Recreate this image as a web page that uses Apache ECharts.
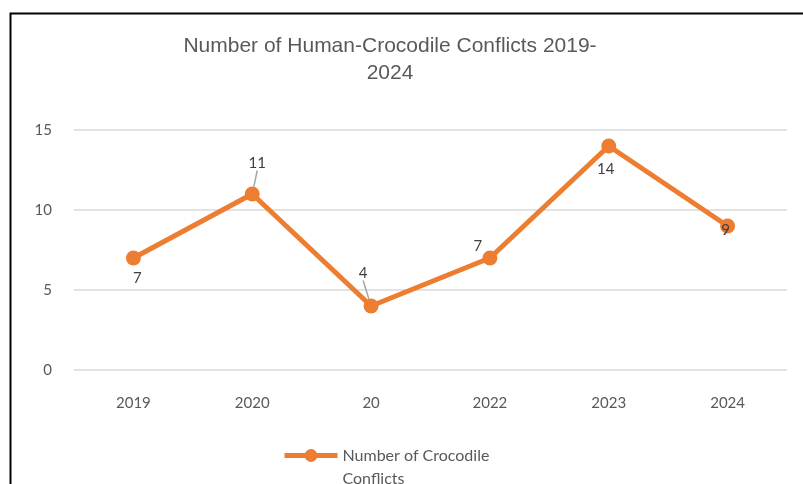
<!DOCTYPE html>
<html>
<head>
<meta charset="utf-8">
<script src="https://cdn.jsdelivr.net/npm/echarts@6/dist/echarts.min.js"></script>
<style>
html,body{margin:0;padding:0;background:#fff;}
#c{width:803px;height:484px;}
</style>
</head>
<body>
<div id="c"></div>
<script>
const categories = ['2019', '2020', '20', '2022', '2023', '2024'];
const conflicts = [7, 11, 4, 7, 14, 9];
const yTicks = [0, 5, 10, 15];
const titleText = 'Number of Human-Crocodile Conflicts 2019-\n2024';
const seriesName = 'Number of Crocodile\nConflicts';

// label offsets per point (dx, dy)
const labelMoves = [[4, 20], [5, -31], [-8, -33], [-12, -12], [-3, 23], [-2, 4]];
const guideShown = [false, true, true, false, false, false];

const chart = echarts.init(document.getElementById('c'), null, {renderer: 'canvas'});
const labelFont = 'Lato, "Open Sans", sans-serif';
chart.setOption({
  animation: false,
  backgroundColor: '#fff',
  graphic: [{
    type: 'rect', left: 8, top: 11, z: 100,
    shape: {x: 0, y: 0, width: 820, height: 500},
    style: {fill: 'none', stroke: '#000', lineWidth: 2}
  }],
  title: {
    text: titleText,
    left: 385, top: 28, textAlign: 'center',
    textStyle: {
      fontFamily: '"Liberation Sans", Arial, sans-serif',
      fontSize: 21, fontWeight: 'normal', color: '#595959', lineHeight: 27
    }
  },
  grid: {left: 74, right: 16, top: 130, bottom: 114},
  xAxis: {
    type: 'category', data: categories, boundaryGap: true,
    axisLine: {show: false}, axisTick: {show: false},
    axisLabel: {color: '#595959', fontFamily: labelFont, fontSize: 15, margin: 26}
  },
  yAxis: {
    type: 'value', min: yTicks[0], max: yTicks[yTicks.length - 1], interval: 5,
    axisLine: {show: false}, axisTick: {show: false},
    splitLine: {lineStyle: {color: '#d9d9d9', width: 1.5}},
    axisLabel: {color: '#595959', fontFamily: labelFont, fontSize: 15, margin: 22}
  },
  legend: {
    left: 282, top: 421, padding: 0,
    itemWidth: 53, itemHeight: 16, itemGap: 5,
    lineStyle: {width: 5, color: '#ED7D31'},
    itemStyle: {color: '#ED7D31'},
    formatter: function (name) { return '\n' + name; },
    textStyle: {color: '#595959', fontFamily: labelFont, fontSize: 16, lineHeight: 23},
    data: [seriesName]
  },
  series: [{
    type: 'line', name: seriesName,
    data: conflicts.map((v, i) => ({
      value: v,
      labelLine: {show: guideShown[i], lineStyle: {color: '#a6a6a6', width: 1.5}}
    })),
    symbol: 'circle', symbolSize: 15,
    lineStyle: {color: '#ED7D31', width: 5},
    itemStyle: {color: '#ED7D31'},
    label: {
      show: true, position: 'inside', color: '#404040',
      fontFamily: labelFont, fontSize: 15
    },
    labelLayout: function (p) {
      const m = labelMoves[p.dataIndex];
      return {dx: m[0], dy: m[1]};
    },
    labelLine: {show: false}
  }]
});
</script>
</body>
</html>
